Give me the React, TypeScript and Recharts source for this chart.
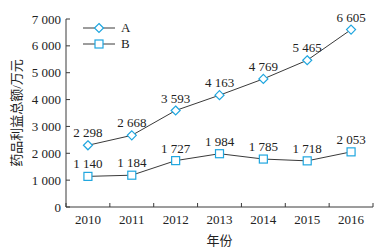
import React from 'react';
import { LineChart, Line, XAxis, YAxis, LabelList } from 'recharts';

const years = [2010, 2011, 2012, 2013, 2014, 2015, 2016];
const seriesA = [2298, 2668, 3593, 4163, 4769, 5465, 6605];
const seriesB = [1140, 1184, 1727, 1984, 1785, 1718, 2053];
const yTicks = [0, 1000, 2000, 3000, 4000, 5000, 6000, 7000];
const xBounds = [2009.5, 2010.5, 2011.5, 2012.5, 2013.5, 2014.5, 2015.5, 2016.5];

const data = years.map((year, i) => ({ year, A: seriesA[i], B: seriesB[i] }));

const FONT = '"Liberation Serif", "Noto Sans CJK SC", serif';
const MARK = '#1fa6df';
const LINE = '#3a3a3a';

const fmt = (v: number) => (v >= 1000 ? `${Math.floor(v / 1000)} ${String(v % 1000).padStart(3, '0')}` : String(v));

const DiamondDot = (props: any) => {
  const { cx, cy } = props;
  if (cx == null || cy == null) return null;
  return <path d={`M${cx},${cy - 4.5}L${cx + 4.5},${cy}L${cx},${cy + 4.5}L${cx - 4.5},${cy}Z`} fill="#fff" stroke={MARK} strokeWidth={1.2} />;
};

const SquareDot = (props: any) => {
  const { cx, cy } = props;
  if (cx == null || cy == null) return null;
  return <rect x={cx - 4} y={cy - 4} width={8} height={8} fill="#fff" stroke={MARK} strokeWidth={1.2} />;
};

// x axis: small inward ticks at category boundaries, year labels in between
const XTick = (props: any) => {
  const { x, y, payload } = props;
  const v = payload.value;
  if (Number.isInteger(v)) {
    return (
      <text x={x} y={y + 17} textAnchor="middle" fontSize={13} fontFamily={FONT} fill="#222">
        {v}
      </text>
    );
  }
  return <line x1={x} y1={y} x2={x} y2={y - 4} stroke={LINE} strokeWidth={1} />;
};

const YTick = (props: any) => {
  const { x, y, payload } = props;
  return (
    <g>
      <line x1={x} y1={y} x2={x + 4} y2={y} stroke={LINE} strokeWidth={1} />
      <text x={x - 5} y={y + 4.5} textAnchor="end" fontSize={13} fontFamily={FONT} fill="#222">
        {fmt(payload.value)}
      </text>
    </g>
  );
};

const LegendBox = () => (
  <div style={{ position: 'absolute', left: 83, top: 20, fontFamily: FONT, fontSize: 13, color: '#222', lineHeight: '16px' }}>
    {['A', 'B'].map((name) => (
      <div key={name} style={{ display: 'flex', alignItems: 'center', height: 16 }}>
        <svg width={32} height={12}>
          <line x1={0} y1={6} x2={32} y2={6} stroke={LINE} strokeWidth={1} />
          {name === 'A' ? (
            <path d="M16,1.5L20.5,6L16,10.5L11.5,6Z" fill="#fff" stroke={MARK} strokeWidth={1.2} />
          ) : (
            <rect x={12} y={2} width={8} height={8} fill="#fff" stroke={MARK} strokeWidth={1.2} />
          )}
        </svg>
        <span style={{ marginLeft: 6 }}>{name}</span>
      </div>
    ))}
  </div>
);

const dataLabel = (props: any) => {
  const { x, y, value } = props;
  return (
    <text x={x} y={y - 8} textAnchor="middle" fontSize={13} fontFamily={FONT} fill="#222">
      {fmt(value)}
    </text>
  );
};

export default function App() {
  return (
    <div style={{ position: 'fixed', left: 0, top: 0, width: 380, height: 250, background: '#fff' }}>
      <LineChart width={380} height={250} data={data} margin={{ top: 19, right: 7, left: 0, bottom: 0 }}>
        <XAxis
          dataKey="year"
          type="number"
          domain={[2009.5, 2016.5]}
          ticks={[...xBounds, ...years].sort((a, b) => a - b)}
          interval={0}
          tick={<XTick />}
          tickLine={false}
          tickSize={0}
          tickMargin={0}
          height={43}
          axisLine={{ stroke: LINE }}
          label={{ value: '年份', position: 'insideBottom', offset: 5, fontSize: 13, fontFamily: FONT, fill: '#222' }}
        />
        <YAxis
          domain={[0, 7000]}
          ticks={yTicks}
          interval={0}
          width={66}
          tick={<YTick />}
          tickLine={false}
          tickSize={0}
          tickMargin={0}
          axisLine={{ stroke: LINE }}
        />
        <Line dataKey="A" name="A" stroke={LINE} strokeWidth={1} dot={<DiamondDot />} isAnimationActive={false}>
          <LabelList dataKey="A" content={dataLabel} />
        </Line>
        <Line dataKey="B" name="B" stroke={LINE} strokeWidth={1} dot={<SquareDot />} isAnimationActive={false}>
          <LabelList dataKey="B" content={dataLabel} />
        </Line>
        <text x={16} y={113} transform="rotate(-90 16 113)" textAnchor="middle" dominantBaseline="central" fontSize={13} fontFamily={FONT} fill="#222">
          药品利益总额/万元
        </text>
      </LineChart>
      <LegendBox />
    </div>
  );
}
